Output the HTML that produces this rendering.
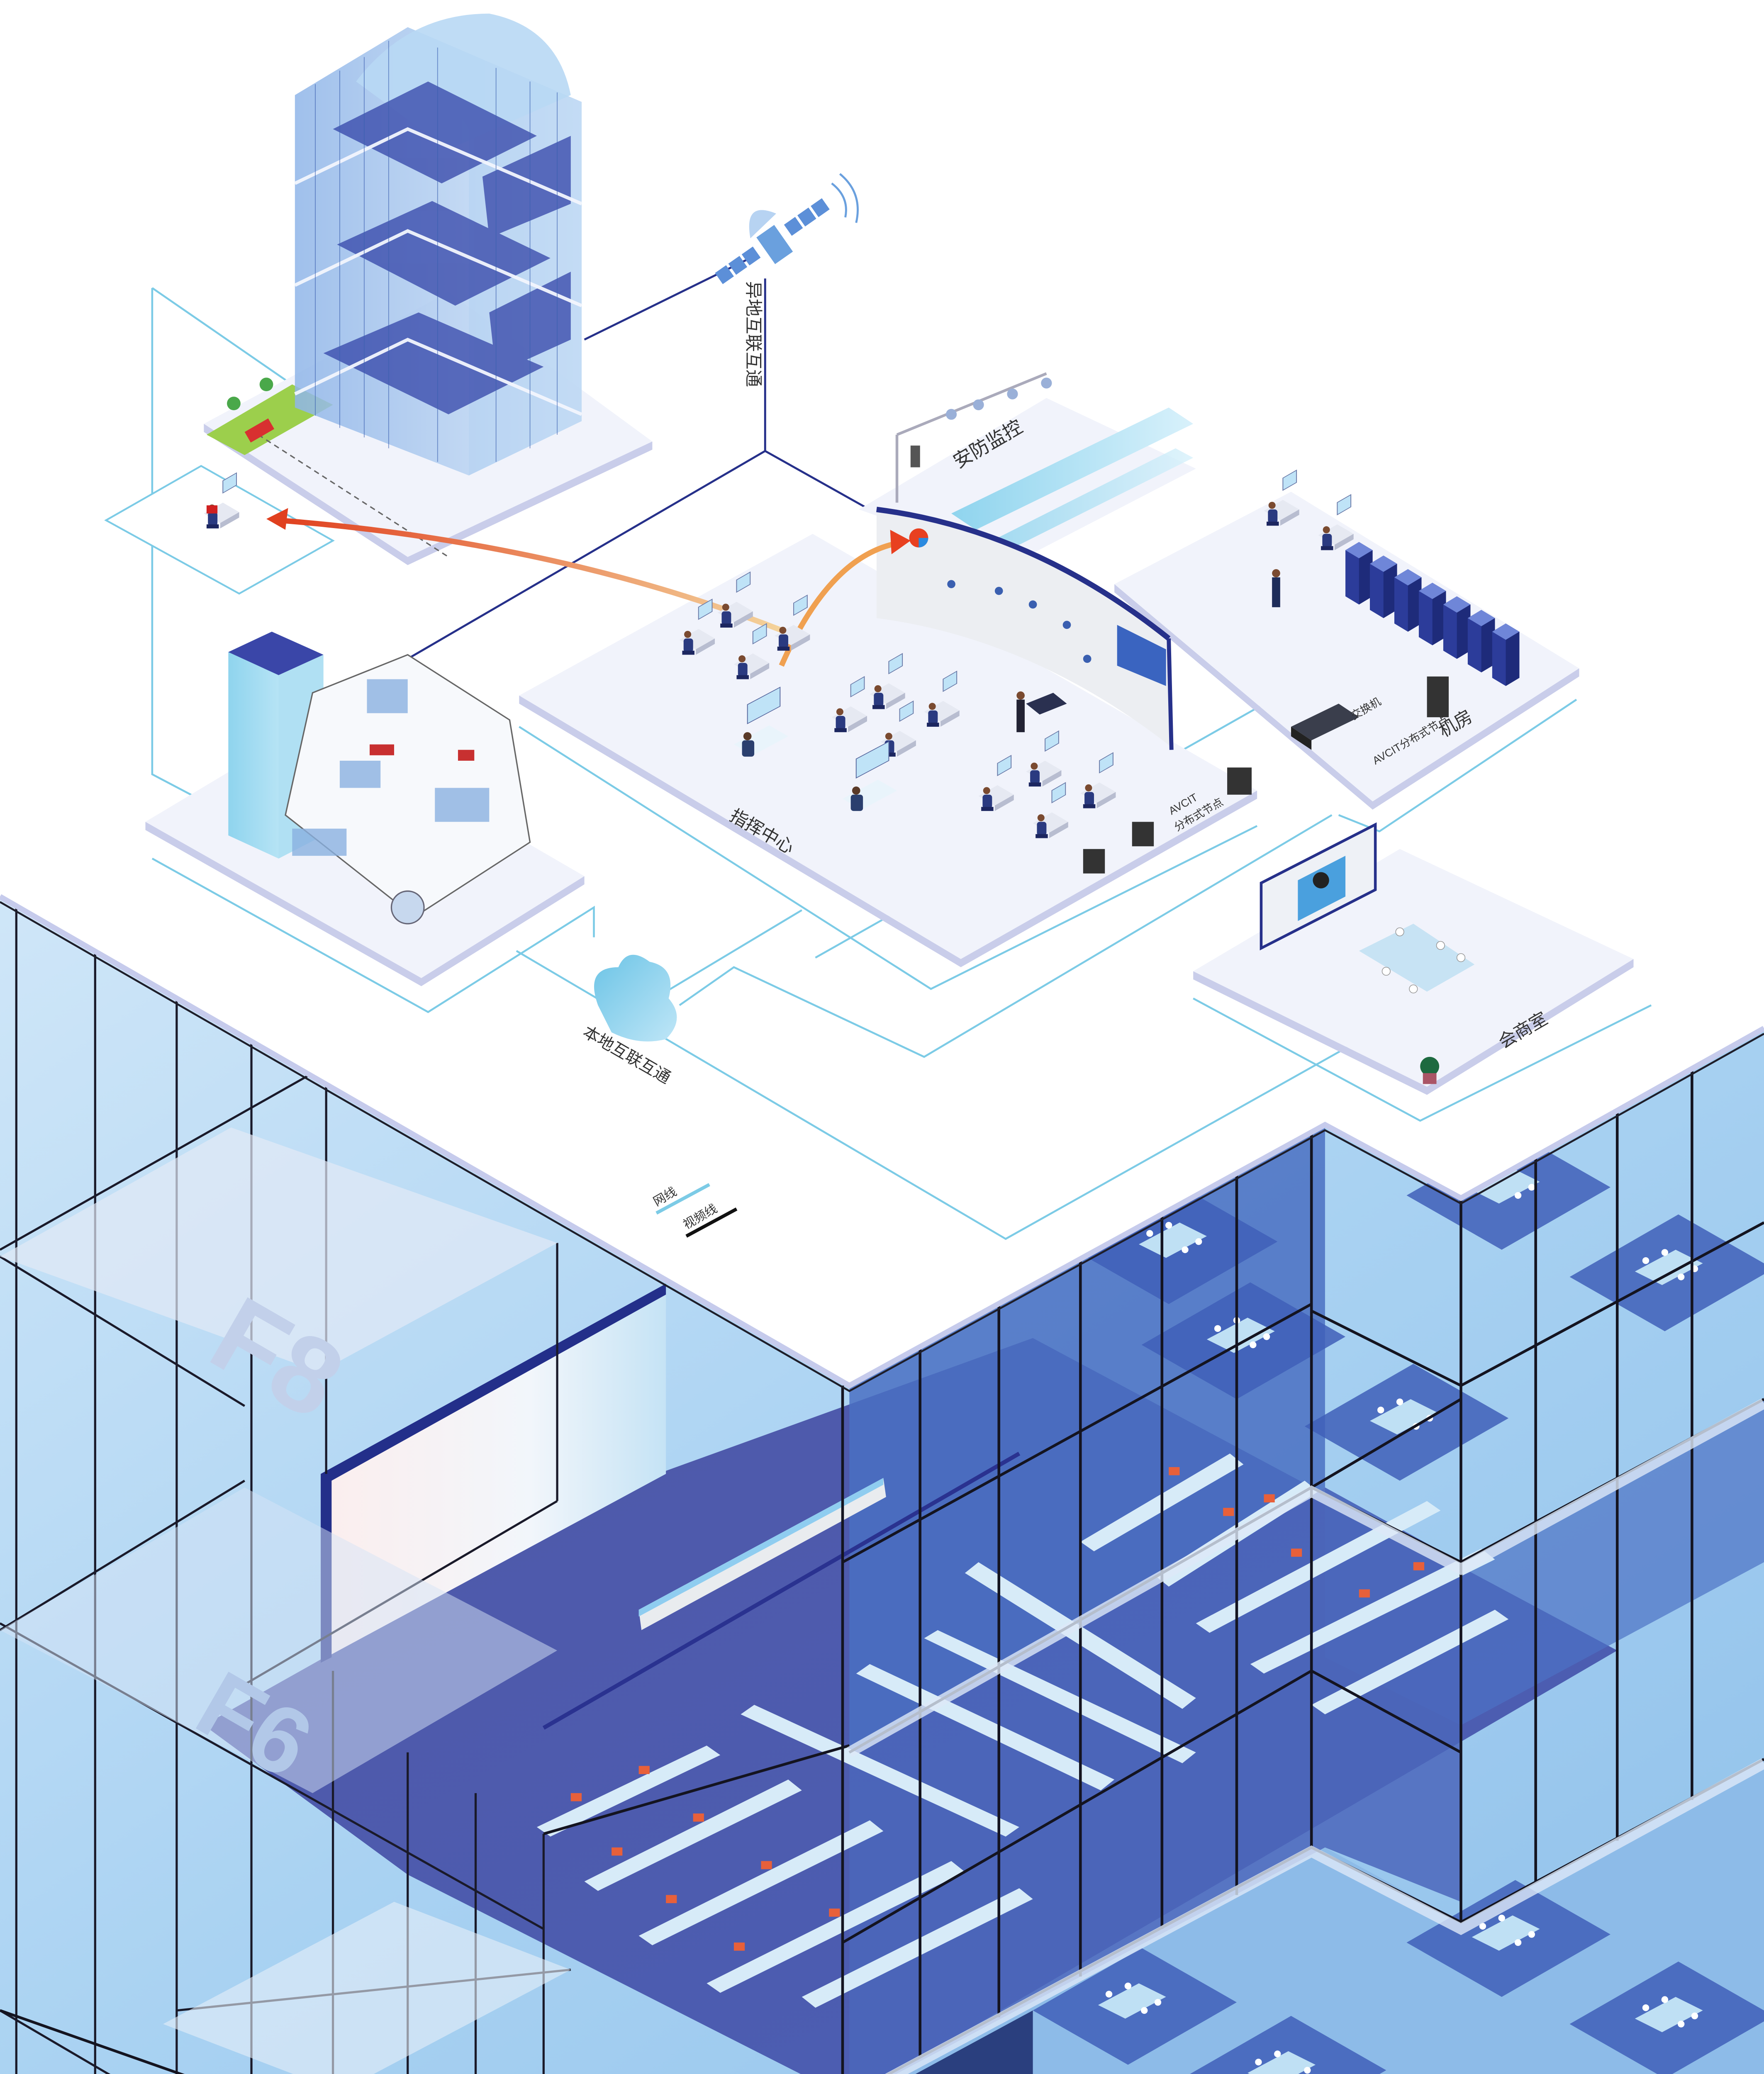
<!DOCTYPE html>
<html><head><meta charset="utf-8">
<style>
html,body{margin:0;padding:0;background:#fff;width:4252px;height:5135px;overflow:hidden;}
svg{display:block;position:absolute;left:0;top:0;}
text{font-family:"Liberation Sans","Noto Sans CJK SC",sans-serif;fill:#333;}
</style></head>
<body>
<svg width="4252" height="5135" viewBox="0 0 1298 1568" preserveAspectRatio="none" xmlns="http://www.w3.org/2000/svg">
<defs>
<linearGradient id="glassL" x1="0" y1="0" x2="1" y2="1">
<stop offset="0" stop-color="#cfe6f8"/><stop offset="0.5" stop-color="#a9d2f2"/><stop offset="1" stop-color="#8fc0ea"/></linearGradient>
<linearGradient id="floor" x1="0" y1="0" x2="1" y2="1">
<stop offset="0" stop-color="#5058a8"/><stop offset="1" stop-color="#4a5fb5"/></linearGradient>
<linearGradient id="wall" x1="0" y1="0" x2="1" y2="0">
<stop offset="0" stop-color="#fbeeee"/><stop offset="0.6" stop-color="#f2f6fb"/><stop offset="1" stop-color="#c5e3f5"/></linearGradient>
<linearGradient id="tower" x1="0" y1="0" x2="1" y2="0">
<stop offset="0" stop-color="#8fb5e8"/><stop offset="1" stop-color="#d4e6f8"/></linearGradient>
<linearGradient id="cyanT" x1="0" y1="0" x2="1" y2="0">
<stop offset="0" stop-color="#8fd4ee"/><stop offset="1" stop-color="#d8f1fb"/></linearGradient>
<linearGradient id="arr1" x1="0" y1="0" x2="1" y2="0">
<stop offset="0" stop-color="#e0401f"/><stop offset="1" stop-color="#f5d9a0"/></linearGradient>
<linearGradient id="cloud" x1="0" y1="0" x2="1" y2="1">
<stop offset="0" stop-color="#6cc4e6"/><stop offset="1" stop-color="#bfe6f7"/></linearGradient>
<g id="ws">
<polygon points="0,6 14,-2 26,5 12,13" fill="#e6e9f2"/>
<polygon points="12,13 26,5 26,9 12,17" fill="#b8bdd0"/>
<rect x="14" y="-10" width="10" height="9" fill="#bfe3f7" stroke="#6a7aa8" stroke-width="0.6" transform="skewY(-30)"/>
<circle cx="6" cy="2" r="2.6" fill="#7a4a30"/>
<rect x="3" y="5" width="7" height="10" rx="2" fill="#2a3a80"/>
<rect x="2" y="14" width="9" height="3" fill="#1c2660"/>
</g>
<g id="desk2">
<polygon points="0,8 26,-6 40,2 14,16" fill="#e9f4fb"/>
<rect x="10" y="-16" width="24" height="14" fill="#bfe3f7" stroke="#5a6aa0" stroke-width="0.6" transform="skewY(-28)"/>
<circle cx="10" cy="2" r="3" fill="#5a3a28"/><rect x="6" y="5" width="9" height="12" rx="2" fill="#2b3f6e"/>
</g>
<g id="rack"><polygon points="0,0 10,-6 20,0 20,34 10,40 0,34" fill="#2c3c9a"/><polygon points="0,0 10,-6 20,0 10,6" fill="#6f86d8"/><polygon points="10,6 20,0 20,34 10,40" fill="#1e2b7a"/></g>
<g id="conf"><polygon points="0,10 30,-6 50,4 20,20" fill="#bfe0f4"/><circle cx="8" cy="2" r="2.5" fill="#fff"/><circle cx="22" cy="-4" r="2.5" fill="#fff"/><circle cx="34" cy="14" r="2.5" fill="#fff"/><circle cx="44" cy="8" r="2.5" fill="#fff"/></g>
<g id="room"><polygon points="0,40 80,-6 150,34 70,80" fill="#3f5fb8" opacity="0.85"/><use href="#conf" x="48" y="26"/></g>
</defs>

<rect width="1298" height="1568" fill="#fff"/>

<polygon points="0,660 625,1020 975,828 1075,882 1298,757 1298,1568 0,1568" fill="url(#glassL)"/>
<polygon points="150,1270 470,1090 760,985 1190,1215 625,1545 300,1380" fill="url(#floor)"/>
<polygon points="625,1020 975,828 975,1095 625,1290" fill="#4a70c2" opacity="0.85"/>
<polygon points="975,1095 1075,1150 1298,1030 1298,1150 1075,1270 975,1220" fill="#4d72c4" opacity="0.7"/>
<polygon points="625,1290 975,1095 1075,1150 1075,1400 975,1360 625,1545" fill="#4b66bb" opacity="0.85"/>
<polygon points="625,1545 975,1360 1075,1415 1298,1295 1298,1568 625,1568" fill="#8dbbe8"/>
<use href="#room" x="1035" y="840"/>
<use href="#room" x="1155" y="900"/>
<use href="#room" x="840" y="950"/>
<use href="#room" x="960" y="1010"/>
<use href="#room" x="790" y="880"/>
<use href="#room" x="1035" y="1390"/>
<use href="#room" x="1155" y="1450"/>
<use href="#room" x="760" y="1440"/>
<use href="#room" x="870" y="1490"/>
<g fill="#d7ebf8">
<polygon points="395,1345 520,1285 530,1292 405,1352"/>
<polygon points="430,1385 580,1310 590,1318 440,1392"/>
<polygon points="470,1425 640,1340 650,1348 480,1432"/>
<polygon points="520,1460 700,1370 710,1378 530,1467"/>
<polygon points="590,1470 750,1390 760,1398 600,1478"/>
<polygon points="555,1255 750,1345 740,1352 545,1262"/>
<polygon points="640,1225 820,1310 810,1318 630,1232"/>
<polygon points="690,1200 880,1290 870,1298 680,1206"/>
<polygon points="720,1150 880,1250 870,1258 710,1158"/>
<polygon points="795,1135 905,1070 915,1078 805,1142"/>
<polygon points="850,1160 960,1090 970,1098 860,1168"/>
<polygon points="880,1195 1050,1105 1060,1112 890,1202"/>
<polygon points="920,1225 1090,1140 1100,1148 930,1232"/>
<polygon points="965,1255 1100,1185 1110,1192 975,1262"/>
</g>
<g fill="#e8603a">
<rect x="420" y="1320" width="8" height="6"/><rect x="450" y="1360" width="8" height="6"/><rect x="490" y="1395" width="8" height="6"/><rect x="540" y="1430" width="8" height="6"/>
<rect x="470" y="1300" width="8" height="6"/><rect x="510" y="1335" width="8" height="6"/><rect x="560" y="1370" width="8" height="6"/><rect x="610" y="1405" width="8" height="6"/>
<rect x="860" y="1080" width="8" height="6"/><rect x="900" y="1110" width="8" height="6"/><rect x="950" y="1140" width="8" height="6"/><rect x="1000" y="1170" width="8" height="6"/><rect x="1040" y="1150" width="8" height="6"/><rect x="930" y="1100" width="8" height="6"/>
</g>
<polygon points="240,1085 490,950 490,1085 240,1220" fill="url(#wall)"/>
<polygon points="236,1085 490,945 490,953 244,1090 244,1220 236,1224" fill="#232f8a"/>
<polygon points="470,1185 650,1088 652,1102 472,1200" fill="#e9ecef"/>
<polygon points="470,1185 650,1088 650,1093 470,1190" fill="#8fcdf0"/>
<line x1="400" y1="1272" x2="750" y2="1070" stroke="#2a3290" stroke-width="3"/>
<g stroke="#1a1a2a" stroke-width="1.6" fill="none">
<line x1="12" y1="667" x2="12" y2="1568"/><line x1="70" y1="700" x2="70" y2="1568"/><line x1="130" y1="735" x2="130" y2="1568"/><line x1="185" y1="765" x2="185" y2="1568"/><line x1="240" y1="800" x2="240" y2="1085"/><line x1="245" y1="1230" x2="245" y2="1568"/>
<line x1="0" y1="925" x2="180" y2="1035"/>
<line x1="0" y1="1195" x2="400" y2="1420"/>
<line x1="0" y1="1480" x2="150" y2="1568"/>
<line x1="300" y1="1290" x2="300" y2="1568"/><line x1="350" y1="1320" x2="350" y2="1568"/><line x1="400" y1="1350" x2="400" y2="1568"/>
<line x1="130" y1="1480" x2="420" y2="1450"/>
<line x1="180" y1="1240" x2="410" y2="1105"/>
<line x1="0" y1="1200" x2="180" y2="1090"/>
<line x1="0" y1="920" x2="230" y2="790"/>
<line x1="410" y1="915" x2="410" y2="1105"/>
</g>
<polygon points="0,925 170,830 410,915 235,1010" fill="#e2eaf7" opacity="0.7"/>
<text x="150" y="1000" font-size="80" font-weight="bold" style="fill:#c2d0ea" transform="rotate(30 150 1000)">F8</text>
<polygon points="0,1200 180,1095 410,1215 230,1320" fill="#d6e4f6" opacity="0.5"/>
<text x="140" y="1270" font-size="70" font-weight="bold" style="fill:#b2c8e8" transform="rotate(30 140 1270)">F6</text>
<polygon points="120,1490 290,1400 420,1450 250,1540" fill="#e6eef9" opacity="0.6"/>
<g stroke="#141420" stroke-width="2" fill="none">
<line x1="620" y1="1020" x2="620" y2="1545"/><line x1="677" y1="990" x2="677" y2="1515"/><line x1="735" y1="960" x2="735" y2="1485"/><line x1="795" y1="925" x2="795" y2="1455"/><line x1="855" y1="895" x2="855" y2="1420"/><line x1="910" y1="860" x2="910" y2="1395"/><line x1="965" y1="830" x2="965" y2="1360"/>
<line x1="1075" y1="882" x2="1075" y2="1415"/><line x1="1130" y1="850" x2="1130" y2="1385"/><line x1="1190" y1="815" x2="1190" y2="1355"/><line x1="1245" y1="785" x2="1245" y2="1325"/>
<polyline points="625,1290 965,1095 1075,1150 1298,1030"/>
<polyline points="400,1350 625,1285"/>
<polyline points="620,1545 965,1360 1075,1415 1298,1295"/>
<polyline points="0,1480 250,1568"/>
<line x1="620" y1="1150" x2="965" y2="960"/>
<line x1="620" y1="1430" x2="965" y2="1230"/>
<line x1="965" y1="1095" x2="1075" y2="1030"/>
<line x1="965" y1="965" x2="1075" y2="1020"/>
<line x1="1075" y1="1020" x2="1298" y2="900"/>
<line x1="965" y1="1230" x2="1075" y2="1290"/>
</g>
<polyline points="625,1290 965,1098 1075,1155 1298,1033" fill="none" stroke="#dde9f8" stroke-width="8" opacity="0.8"/>
<polyline points="620,1548 965,1363 1075,1420 1298,1298" fill="none" stroke="#dde9f8" stroke-width="8" opacity="0.8"/>
<polygon points="640,1545 760,1480 760,1568 640,1568" fill="#2a3f7e"/>

<polygon points="0,0 1298,0 1298,757 1075,882 975,828 625,1020 0,660" fill="#fff"/>
<polyline points="0,660 625,1020 975,828 1075,882 1298,757" fill="none" stroke="#c6cbec" stroke-width="4"/>
<polyline points="0,664 625,1024 975,832 1075,886 1298,761" fill="none" stroke="#1e1e2a" stroke-width="1.4"/>

<g fill="none" stroke="#26308a" stroke-width="1.5">
<line x1="563" y1="205" x2="563" y2="332"/>
<line x1="430" y1="250" x2="552" y2="190"/>
<line x1="563" y1="332" x2="300" y2="485"/>
<line x1="563" y1="332" x2="645" y2="378"/>
</g>
<g fill="none" stroke="#7ccbe6" stroke-width="1.4">
<polyline points="112,212 112,570 150,590"/>
<line x1="112" y1="212" x2="225" y2="290"/>
<polyline points="380,700 740,912 1050,738"/>
<polyline points="490,730 590,670"/>
<polyline points="500,740 540,712 680,778 980,600"/>
<polyline points="600,705 980,490"/>
</g>
<line x1="483" y1="893" x2="522" y2="872" stroke="#7ccbe6" stroke-width="2.5"/>
<line x1="505" y1="910" x2="542" y2="890" stroke="#111" stroke-width="2.5"/>
<text x="483" y="888" font-size="9" transform="rotate(-30 483 888)">网线</text>
<text x="505" y="905" font-size="9" transform="rotate(-30 505 905)">视频线</text>

<polygon points="78,383 148,343 245,398 176,437" fill="#fff" stroke="#7ccbe6" stroke-width="1.3"/>
<polygon points="150,312 330,215 480,325 300,410" fill="#f1f3fb"/>
<polygon points="150,318 300,416 480,331 480,325 300,410 150,312" fill="#c9cdea"/>
<polygon points="152,320 215,283 245,298 180,335" fill="#9ccf4c"/>
<line x1="190" y1="320" x2="330" y2="410" stroke="#666" stroke-dasharray="4 3" stroke-width="1"/>
<circle cx="172" cy="297" r="5" fill="#4aa84a"/><circle cx="196" cy="283" r="5" fill="#4aa84a"/>
<rect x="180" y="318" width="20" height="9" fill="#d83030" transform="rotate(-30 180 318)"/>
<use href="#ws" x="150" y="372"/>
<rect x="152" y="372" width="8" height="6" fill="#d02020"/>
<polygon points="217,70 300,20 428,75 428,310 345,350 217,300" fill="url(#tower)" opacity="0.85"/>
<polygon points="300,20 428,75 428,310 345,350 345,95" fill="#b4d2f2" opacity="0.6"/>
<path d="M262,60 Q300,10 360,10 Q410,20 420,70 L330,110 Z" fill="#b8d8f4" opacity="0.9"/>
<g fill="#3344a8" opacity="0.75">
<polygon points="245,95 315,60 395,100 325,135"/>
<polygon points="248,180 318,148 405,190 335,225"/>
<polygon points="238,260 308,230 400,270 330,305"/>
<polygon points="355,130 420,100 420,150 360,175"/>
<polygon points="360,230 420,200 420,250 365,275"/>
</g>
<g stroke="#f2f6fd" stroke-width="2.5" fill="none" opacity="0.95">
<polyline points="217,135 300,95 428,150"/><polyline points="217,210 300,170 428,225"/><polyline points="217,290 300,250 428,305"/>
</g>
<g stroke="#3a5fb0" stroke-width="0.6" opacity="0.6">
<line x1="232" y1="62" x2="232" y2="306"/><line x1="250" y1="52" x2="250" y2="315"/><line x1="268" y1="42" x2="268" y2="322"/><line x1="286" y1="30" x2="286" y2="330"/><line x1="322" y1="35" x2="322" y2="340"/><line x1="365" y1="50" x2="365" y2="340"/><line x1="390" y1="60" x2="390" y2="330"/><line x1="410" y1="68" x2="410" y2="320"/>
</g>
<g transform="translate(570,180) rotate(-35)">
<rect x="-8" y="-12" width="16" height="24" fill="#6aa0de"/>
<g fill="#5c8fd8"><rect x="-48" y="-8" width="10" height="10"/><rect x="-36" y="-8" width="10" height="10"/><rect x="-24" y="-8" width="10" height="10"/><rect x="14" y="-8" width="10" height="10"/><rect x="26" y="-8" width="10" height="10"/><rect x="38" y="-8" width="10" height="10"/></g>
<path d="M-12,-14 Q0,-40 14,-18 Z" fill="#b7d3f2"/>
</g>
<path d="M612,135 Q625,145 622,160" fill="none" stroke="#6aa0de" stroke-width="1.5"/>
<path d="M618,128 Q635,142 630,164" fill="none" stroke="#6aa0de" stroke-width="1.5"/>
<text x="550" y="207" font-size="13" transform="rotate(90 550 207)">异地互联互通</text>

<polygon points="632,375 770,293 880,345 745,415" fill="#f1f3fb"/>
<g fill="url(#cyanT)">
<polygon points="700,378 860,300 878,312 718,390"/>
<polygon points="730,398 865,330 878,337 742,405" opacity="0.8"/>
</g>
<line x1="660" y1="370" x2="660" y2="320" stroke="#aab" stroke-width="2"/>
<line x1="660" y1="320" x2="770" y2="275" stroke="#aab" stroke-width="2"/>
<rect x="670" y="328" width="7" height="16" fill="#555"/>
<g fill="#9ab0d8"><circle cx="700" cy="305" r="4"/><circle cx="720" cy="298" r="4"/><circle cx="745" cy="290" r="4"/><circle cx="770" cy="282" r="4"/></g>
<text x="705" y="345" font-size="14" transform="rotate(-30 705 345)">安防监控</text>

<polygon points="820,430 950,362 1162,492 1010,590" fill="#f1f3fb"/>
<polygon points="820,430 1010,590 1162,492 1162,498 1010,596 820,436" fill="#c9cdea"/>
<polyline points="985,600 1015,612 1160,515" fill="none" stroke="#7ccbe6" stroke-width="1.4"/>
<use href="#rack" x="990" y="405"/><use href="#rack" x="1008" y="415"/><use href="#rack" x="1026" y="425"/><use href="#rack" x="1044" y="435"/><use href="#rack" x="1062" y="445"/><use href="#rack" x="1080" y="455"/><use href="#rack" x="1098" y="465"/>
<use href="#ws" x="930" y="370"/><use href="#ws" x="970" y="388"/>
<rect x="936" y="425" width="6" height="22" fill="#1f2d5a"/><circle cx="939" cy="422" r="3" fill="#7a4a30"/>
<polygon points="950,535 985,518 1000,528 965,545" fill="#3a3e4c"/><polygon points="950,535 965,545 965,552 950,542" fill="#222"/>
<rect x="1050" y="498" width="16" height="30" fill="#333"/>
<text x="996" y="530" font-size="8" transform="rotate(-30 996 530)">交换机</text>
<text x="1012" y="563" font-size="8" transform="rotate(-30 1012 563)">AVCIT分布式节点</text>
<text x="1062" y="543" font-size="13" transform="rotate(-30 1062 543)">机房</text>

<polygon points="382,512 598,393 925,582 707,706" fill="#f1f3fb"/>
<polygon points="382,512 707,706 925,582 925,588 707,712 382,518" fill="#c9cdea"/>
<polyline points="382,535 685,728 925,608" fill="none" stroke="#7ccbe6" stroke-width="1.4"/>
<path d="M645,375 Q760,390 860,470 L862,550 Q760,470 645,455 Z" fill="#eceef2"/>
<path d="M645,375 Q760,390 860,470" fill="none" stroke="#26308a" stroke-width="4"/>
<line x1="860" y1="470" x2="862" y2="552" stroke="#26308a" stroke-width="3"/>
<polygon points="822,460 858,478 858,505 822,490" fill="#3a64c0"/>
<circle cx="676" cy="396" r="7" fill="#e84020"/><path d="M676,396 L683,396 A7,7 0 0 1 676,403 Z" fill="#2a8ae0"/>
<g fill="#3a5fb0"><circle cx="700" cy="430" r="3"/><circle cx="735" cy="435" r="3"/><circle cx="760" cy="445" r="3"/><circle cx="785" cy="460" r="3"/><circle cx="800" cy="485" r="3"/></g>
<path d="M590,470 Q420,400 205,383" fill="none" stroke="url(#arr1)" stroke-width="4"/>
<polygon points="196,382 212,374 210,390" fill="#e0401f"/>
<path d="M575,490 Q610,410 660,400" fill="none" stroke="#f0a050" stroke-width="4"/>
<polygon points="670,398 655,390 656,408" fill="#e84020"/>
<use href="#ws" x="528" y="445"/><use href="#ws" x="500" y="465"/><use href="#ws" x="570" y="462"/><use href="#ws" x="540" y="483"/>
<use href="#ws" x="640" y="505"/><use href="#ws" x="612" y="522"/><use href="#ws" x="680" y="518"/><use href="#ws" x="648" y="540"/>
<use href="#ws" x="755" y="562"/><use href="#ws" x="720" y="580"/><use href="#ws" x="795" y="578"/><use href="#ws" x="760" y="600"/>
<use href="#desk2" x="540" y="540"/><use href="#desk2" x="620" y="580"/>
<rect x="748" y="515" width="6" height="24" fill="#223"/><circle cx="751" cy="512" r="3" fill="#7a4a30"/>
<polygon points="755,518 775,510 785,518 765,526" fill="#2a3050"/>
<rect x="903" y="565" width="18" height="20" fill="#333"/><rect x="833" y="605" width="16" height="18" fill="#333"/><rect x="797" y="625" width="16" height="18" fill="#333"/>
<text x="862" y="600" font-size="8" transform="rotate(-30 862 600)">AVCIT</text>
<text x="866" y="612" font-size="8" transform="rotate(-30 866 612)">分布式节点</text>
<text x="536" y="603" font-size="13" transform="rotate(30 536 603)">指挥中心</text>

<polygon points="107,605 232,530 430,645 310,720" fill="#f1f3fb"/>
<polygon points="107,605 310,720 430,645 430,651 310,726 107,611" fill="#c9cdea"/>
<polyline points="112,632 315,745 437,668 437,690" fill="none" stroke="#7ccbe6" stroke-width="1.4"/>
<polygon points="168,480 200,465 238,482 238,615 205,632 168,615" fill="url(#cyanT)"/>
<polygon points="168,480 200,465 238,482 205,497" fill="#3a46a8"/>
<polygon points="205,497 238,482 238,615 205,632" fill="#b0e0f3"/>
<polygon points="210,600 230,510 300,482 375,530 390,620 305,675" fill="#f7f9fc" stroke="#666" stroke-width="1"/>
<g fill="#8ab0e0" opacity="0.8"><rect x="270" y="500" width="30" height="25"/><rect x="250" y="560" width="30" height="20"/><rect x="320" y="580" width="40" height="25"/><rect x="215" y="610" width="40" height="20"/></g>
<rect x="272" y="548" width="18" height="8" fill="#c83030"/><rect x="337" y="552" width="12" height="8" fill="#c83030"/>
<circle cx="300" cy="668" r="12" fill="#c7d8ee" stroke="#667" stroke-width="1"/>

<path d="M440,740 Q430,712 455,712 Q462,696 478,708 Q498,712 492,735 Q505,750 490,765 Q470,770 450,760 Z" fill="url(#cloud)"/>
<text x="428" y="762" font-size="12" transform="rotate(30 428 762)">本地互联互通</text>

<polygon points="878,715 1030,625 1202,706 1050,800" fill="#f1f3fb"/>
<polygon points="878,715 1050,800 1202,706 1202,712 1050,806 878,721" fill="#c9cdea"/>
<polyline points="878,735 1045,825 1215,740" fill="none" stroke="#7ccbe6" stroke-width="1.4"/>
<polygon points="928,650 1012,607 1012,655 928,698" fill="#eef1f6" stroke="#26308a" stroke-width="2"/>
<polygon points="955,648 990,630 990,660 955,678" fill="#4aa0de"/>
<circle cx="972" cy="648" r="6" fill="#222"/>
<polygon points="1000,700 1040,680 1085,710 1050,730" fill="#c7e3f4"/>
<g fill="#fff" stroke="#999" stroke-width="0.5"><circle cx="1030" cy="686" r="3"/><circle cx="1060" cy="696" r="3"/><circle cx="1075" cy="705" r="3"/><circle cx="1020" cy="715" r="3"/><circle cx="1040" cy="728" r="3"/></g>
<circle cx="1052" cy="785" r="7" fill="#1e6a40"/><rect x="1047" y="790" width="10" height="8" fill="#a56"/>
<text x="1106" y="772" font-size="13" transform="rotate(-30 1106 772)">会商室</text>
</svg>
</body></html>
